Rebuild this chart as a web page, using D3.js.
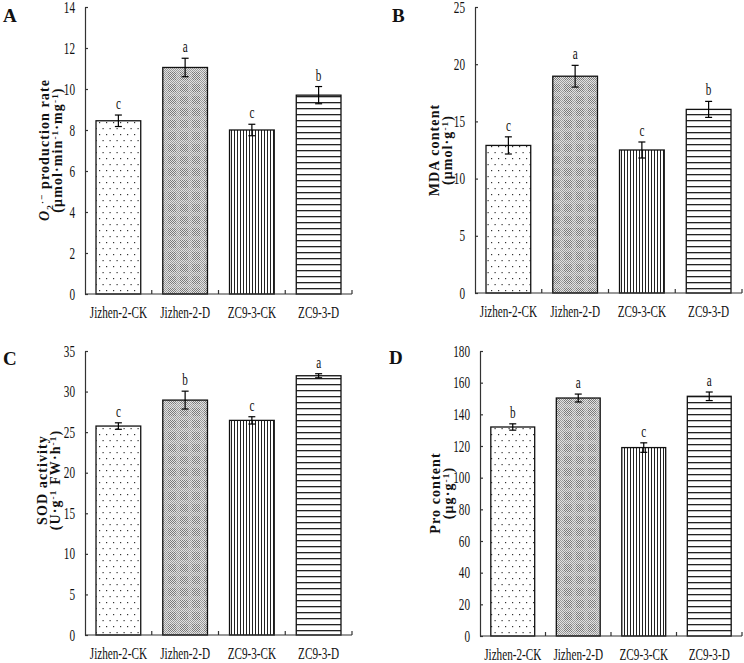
<!DOCTYPE html>
<html>
<head>
<meta charset="utf-8">
<script src="https://cdn.jsdelivr.net/npm/d3@7"></script>
<style>
	body { margin: 0; background: #fff; }
	svg { display: block; }
	text { font-family: "Liberation Serif", "Times New Roman", serif; fill: #111; }
</style>
</head>
<body>
<script>
// categories shared by all four panels
const categories = ['Jizhen-2-CK', 'Jizhen-2-D', 'ZC9-3-CK', 'ZC9-3-D']

// A: O2- production rate
const o2Values  = [8.45, 11.05, 8.0, 9.7]
const o2Errors  = [0.28, 0.45, 0.28, 0.42]
const o2Letters = ['c', 'a', 'c', 'b']
const o2Ticks   = [0, 2, 4, 6, 8, 10, 12, 14]

// B: MDA content
const mdaValues  = [12.9, 18.95, 12.5, 16.05]
const mdaErrors  = [0.75, 0.95, 0.7, 0.7]
const mdaLetters = ['c', 'a', 'c', 'b']
const mdaTicks   = [0, 5, 10, 15, 20, 25]

// C: SOD activity
const sodValues  = [25.75, 28.95, 26.45, 31.95]
const sodErrors  = [0.4, 1.1, 0.45, 0.25]
const sodLetters = ['c', 'b', 'c', 'a']
const sodTicks   = [0, 5, 10, 15, 20, 25, 30, 35]

// D: Pro content
const proValues  = [132, 150.3, 119, 151.4]
const proErrors  = [2, 2.5, 3, 2.7]
const proLetters = ['b', 'a', 'c', 'a']
const proTicks   = [0, 20, 40, 60, 80, 100, 120, 140, 160, 180]

const squeeze = 0.7

const $svg = d3.select('body').append('svg')
	.attr('width', 744)
	.attr('height', 663)

// fill patterns, one per category
const $defs = $svg.append('defs')

const $dots = $defs.append('pattern')
	.attr('id', 'p0').attr('patternUnits', 'userSpaceOnUse')
	.attr('width', 7).attr('height', 12)
$dots.append('rect').attr('width', 7).attr('height', 12).attr('fill', '#fff')
$dots.append('rect').attr('x', 1).attr('y', 2).attr('width', 1.2).attr('height', 1.2).attr('fill', '#333')
$dots.append('rect').attr('x', 4.5).attr('y', 8).attr('width', 1.2).attr('height', 1.2).attr('fill', '#333')

// fine gray checker with faint plaid bands
const $check = $defs.append('pattern')
	.attr('id', 'p1').attr('patternUnits', 'userSpaceOnUse')
	.attr('width', 12).attr('height', 12)
$check.append('rect').attr('width', 12).attr('height', 12).attr('fill', '#e2e2e2')
d3.range(0, 12).forEach(r => {
	d3.range(r % 2, 12, 2).forEach(c => {
		const dark = (r >= 8 || c >= 8) ? '#9a9a9a' : '#7a7a7a'
		$check.append('rect').attr('x', c).attr('y', r).attr('width', 1).attr('height', 1).attr('fill', dark)
	})
})

const $vert = $defs.append('pattern')
	.attr('id', 'p2').attr('patternUnits', 'userSpaceOnUse')
	.attr('width', 3).attr('height', 10)
$vert.append('rect').attr('width', 3).attr('height', 10).attr('fill', '#fff')
$vert.append('rect').attr('width', 1).attr('height', 10).attr('fill', '#222')

const $horiz = $defs.append('pattern')
	.attr('id', 'p3').attr('patternUnits', 'userSpaceOnUse')
	.attr('width', 10).attr('height', 6)
$horiz.append('rect').attr('width', 10).attr('height', 6).attr('fill', '#fff')
$horiz.append('rect').attr('width', 10).attr('height', 1.3).attr('fill', '#222')

// text with sub/superscript pieces: [text, kind] kind = 'sup' | 'sub' | 'it' | undefined
function rich($text, parts) {
	let shift = 0
	parts.forEach(([t, kind]) => {
		const $t = $text.append('tspan').text(t)
		let target = 0
		if (kind === 'sup') target = -4.5
		if (kind === 'sub') target = 3.5
		$t.attr('dy', target - shift)
		shift = target
		if (kind === 'sup' || kind === 'sub') $t.attr('font-size', '0.66em')
		if (kind === 'it') $t.attr('font-style', 'italic')
	})
}

function panel(o) {
	const $g = $svg.append('g')

	const x = d3.scaleBand()
		.domain(categories)
		.range([o.x0, o.x1])
		.paddingInner(0.33)
		.paddingOuter(0.165)

	const y = d3.scaleLinear()
		.domain([0, o.ticks[o.ticks.length - 1]])
		.range([o.bottom, o.top])

	// bars
	$g.selectAll('.bar')
		.data(o.values)
		.enter()
		.append('rect')
		.attr('class', 'bar')
		.attr('x', (d, i) => x(categories[i]))
		.attr('width', x.bandwidth())
		.attr('y', d => y(d))
		.attr('height', d => y(0) - y(d))
		.attr('fill', (d, i) => `url(#p${i})`)
		.attr('stroke', '#111')
		.attr('stroke-width', 1.3)

	// error bars
	const cx = i => x(categories[i]) + x.bandwidth() / 2
	const $err = $g.selectAll('.err')
		.data(o.values)
		.enter()
		.append('g')
		.attr('class', 'err')
		.attr('stroke', '#000')
		.attr('stroke-width', 1.2)
	$err.append('line')
		.attr('x1', (d, i) => cx(i)).attr('x2', (d, i) => cx(i))
		.attr('y1', (d, i) => y(d - o.errors[i])).attr('y2', (d, i) => y(d + o.errors[i]))
	$err.append('line')
		.attr('x1', (d, i) => cx(i) - 3.5).attr('x2', (d, i) => cx(i) + 3.5)
		.attr('y1', (d, i) => y(d + o.errors[i])).attr('y2', (d, i) => y(d + o.errors[i]))
	$err.append('line')
		.attr('x1', (d, i) => cx(i) - 3.5).attr('x2', (d, i) => cx(i) + 3.5)
		.attr('y1', (d, i) => y(d - o.errors[i])).attr('y2', (d, i) => y(d - o.errors[i]))

	// significance letters
	$g.selectAll('.sig')
		.data(o.values)
		.enter()
		.append('text')
		.attr('class', 'sig')
		.attr('transform', (d, i) => `translate(${cx(i)},${y(d + o.errors[i]) - 6}) scale(${squeeze},1)`)
		.attr('text-anchor', 'middle')
		.attr('font-size', 16)
		.text((d, i) => o.letters[i])

	// y axis
	const $y = $g.append('g')
		.attr('transform', `translate(${o.x0},0)`)
		.call(d3.axisLeft(y).tickValues(o.ticks).tickSizeInner(-3).tickSizeOuter(0).tickPadding(10))
	$y.attr('font-family', null)
	$y.select('.domain').attr('stroke', '#333').attr('stroke-width', 1.2)
	$y.selectAll('.tick line').attr('stroke', '#333').attr('stroke-width', 1.2)
	$y.selectAll('text')
		.attr('x', -10 / squeeze)
		.attr('transform', `scale(${squeeze},1)`)
		.attr('font-size', 16)
		.attr('fill', '#111')

	// x axis
	const $x = $g.append('g')
		.attr('transform', `translate(0,${o.bottom})`)
		.call(d3.axisBottom(x).tickSize(0).tickPadding(13))
	$x.select('.domain').remove()
	$x.attr('font-family', null)
	$x.selectAll('text')
		.attr('transform', `scale(${squeeze},1)`)
		.attr('font-size', 16)
		.attr('fill', '#111')
	$g.append('line')
		.attr('x1', o.x0).attr('x2', o.x1)
		.attr('y1', o.bottom).attr('y2', o.bottom)
		.attr('stroke', '#333').attr('stroke-width', 1.2)
	$g.selectAll('.xtick')
		.data(categories)
		.enter()
		.append('line')
		.attr('class', 'xtick')
		.attr('x1', d => x(d) + x.bandwidth() + x.step() * 0.165)
		.attr('x2', d => x(d) + x.bandwidth() + x.step() * 0.165)
		.attr('y1', o.bottom).attr('y2', o.bottom - 4)
		.attr('stroke', '#333').attr('stroke-width', 1.2)

	// axis title
	const $title = $g.append('g')
		.attr('transform', `translate(${o.titleX},${o.titleY}) rotate(-90)`)
		.attr('font-weight', 'bold')
		.attr('font-size', 14)
		.attr('letter-spacing', 1.1)
		.attr('text-anchor', 'middle')
	o.title.forEach((parts, li) => {
		rich($title.append('text').attr('y', li * 13), parts)
	})

	// panel letter
	$g.append('text')
		.attr('x', o.labelX).attr('y', o.labelY)
		.attr('font-size', 19)
		.attr('font-weight', 'bold')
		.text(o.label)
}

panel({
	x0: 85, x1: 352, top: 7, bottom: 294,
	values: o2Values, errors: o2Errors, letters: o2Letters, ticks: o2Ticks,
	titleX: 49, titleY: 150,
	title: [
		[['O', 'it'], ['2', 'sub'], ['·−', 'sup'], [' production rate']],
		[['(μmol·min'], ['-1', 'sup'], ['·mg'], ['-1', 'sup'], [')']]
	],
	label: 'A', labelX: 3, labelY: 22
})

panel({
	x0: 475, x1: 742, top: 7, bottom: 293,
	values: mdaValues, errors: mdaErrors, letters: mdaLetters, ticks: mdaTicks,
	titleX: 439, titleY: 150,
	title: [
		[['MDA content']],
		[['(μmol·g'], ['-1', 'sup'], [')']]
	],
	label: 'B', labelX: 392, labelY: 22
})

panel({
	x0: 85, x1: 352, top: 351, bottom: 635,
	values: sodValues, errors: sodErrors, letters: sodLetters, ticks: sodTicks,
	titleX: 47, titleY: 480,
	title: [
		[['SOD activity']],
		[['(U·g'], ['-1', 'sup'], [' FW·h'], ['-1', 'sup'], [')']]
	],
	label: 'C', labelX: 3, labelY: 365
})

panel({
	x0: 480, x1: 742, top: 351, bottom: 636,
	values: proValues, errors: proErrors, letters: proLetters, ticks: proTicks,
	titleX: 440, titleY: 493,
	title: [
		[['Pro content']],
		[['(μg·g'], ['-1', 'sup'], [')']]
	],
	label: 'D', labelX: 389, labelY: 364
})
</script>
</body>
</html>
